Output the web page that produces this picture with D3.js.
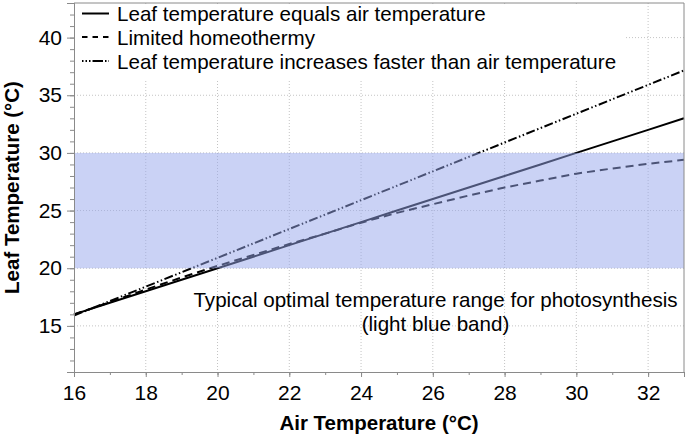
<!DOCTYPE html>
<html>
<head>
<meta charset="utf-8">
<script src="https://cdn.jsdelivr.net/npm/d3@7"></script>
<style>
    body { margin: 0; background: #fff; }
    svg { display: block; font-family: 'Liberation Sans', Helvetica, Arial, sans-serif; }
</style>
</head>
<body>
<div id="chart"></div>
<script>
'use strict';

// air temperature (x) in degrees C
const airTemps = [16, 17, 18, 19, 20, 21, 22, 23, 24, 25, 26, 27, 28, 29, 30, 31, 32, 33];

// leaf temperature for each scenario
const equalLeaf = [16, 17, 18, 19, 20, 21, 22, 23, 24, 25, 26, 27, 28, 29, 30, 31, 32, 33];
const homeoLeaf = [16, 17.05, 18.15, 19.2, 20.2, 21.15, 22.1, 23.0, 23.95, 24.8, 25.55, 26.3, 27.0, 27.6, 28.2, 28.65, 29.05, 29.4];
const fasterLeaf = [15.9, 17.15, 18.4, 19.65, 20.9, 22.15, 23.4, 24.65, 25.9, 27.15, 28.4, 29.65, 30.9, 32.15, 33.4, 34.65, 35.9, 37.15];

const seriesNames = [
    'Leaf temperature equals air temperature',
    'Limited homeothermy',
    'Leaf temperature increases faster than air temperature'
];
const seriesDash = ['none', '8,5', '9,2.5,1.5,2.5,1.5,2.5'];
const legendDash = [null, '5.5,5', '1.5,2,1.5,2,1.5,2,9,0'];

// optimal band
const bandRange = [20, 30];

const xTicks = [16, 18, 20, 22, 24, 26, 28, 30, 32];
const yTicks = [15, 20, 25, 30, 35, 40];

const width = 686;
const height = 436;
const margin = { top: 3, right: 2, bottom: 64, left: 74 };
const chartWidth = width - margin.left - margin.right;
const chartHeight = height - margin.top - margin.bottom;
const fontFamily = "'Liberation Sans', Helvetica, Arial, sans-serif";

const svg = d3.select('#chart')
    .append('svg')
    .attr('width', width)
    .attr('height', height);

const chart = svg.append('g')
    .attr('transform', `translate(${margin.left},${margin.top})`);

const xScale = d3.scaleLinear().domain([16, 33]).range([0, chartWidth]);
const yScale = d3.scaleLinear().domain([11, 43]).range([chartHeight, 0]);

// grid
chart.append('g')
    .selectAll('line.vgrid')
    .data(xTicks.slice(1))
    .join('line')
    .attr('x1', d => xScale(d))
    .attr('x2', d => xScale(d))
    .attr('y1', 0)
    .attr('y2', chartHeight)
    .attr('stroke', '#c4c4c4')
    .attr('stroke-dasharray', '1,2');

chart.append('g')
    .selectAll('line.hgrid')
    .data(yTicks)
    .join('line')
    .attr('x1', 0)
    .attr('x2', chartWidth)
    .attr('y1', d => yScale(d))
    .attr('y2', d => yScale(d))
    .attr('stroke', '#c4c4c4')
    .attr('stroke-dasharray', '1,2');

// lines
const series = [equalLeaf, homeoLeaf, fasterLeaf].map(function (vals, i) {
    return {
        name: seriesNames[i],
        dash: seriesDash[i],
        legendDash: legendDash[i],
        values: airTemps.map(function (x, j) { return { x: x, y: vals[j] }; })
    };
});

const lineGen = d3.line()
    .x(d => xScale(d.x))
    .y(d => yScale(d.y));

chart.append('g')
    .selectAll('path.series')
    .data(series)
    .join('path')
    .attr('class', 'series')
    .attr('fill', 'none')
    .attr('stroke', '#000')
    .attr('stroke-width', 2)
    .attr('stroke-dasharray', d => d.dash)
    .attr('d', d => lineGen(d.values));

// band drawn on top, semi transparent
chart.append('rect')
    .attr('x', 0)
    .attr('width', chartWidth)
    .attr('y', yScale(bandRange[1]))
    .attr('height', yScale(bandRange[0]) - yScale(bandRange[1]))
    .attr('fill', 'rgb(150,165,235)')
    .attr('fill-opacity', 0.5);

// axes
const axisColour = '#8a8a8a';

const xMinor = chart.append('g')
    .attr('transform', `translate(0,${chartHeight})`)
    .call(d3.axisBottom(xScale).tickValues(d3.range(16, 34)).tickSize(3).tickFormat(''));
const xMajor = chart.append('g')
    .attr('transform', `translate(0,${chartHeight})`)
    .call(d3.axisBottom(xScale).tickValues(xTicks).tickSize(5).tickPadding(8).tickFormat(d3.format('d')));

const yMinor = chart.append('g')
    .call(d3.axisLeft(yScale).tickValues(d3.range(11, 44)).tickSize(4).tickFormat(''));
const yMajor = chart.append('g')
    .call(d3.axisLeft(yScale).tickValues(yTicks).tickSize(7).tickPadding(5).tickFormat(d3.format('d')));

[xMinor, xMajor, yMinor, yMajor].forEach(function (g) {
    g.selectAll('line, path').attr('stroke', axisColour);
    g.selectAll('text')
        .attr('font-size', 21)
        .attr('font-family', fontFamily)
        .attr('fill', '#000');
});

// frame top and right
chart.append('path')
    .attr('d', `M0,0H${chartWidth}V${chartHeight}`)
    .attr('fill', 'none')
    .attr('stroke', axisColour);

// legend
const legend = svg.append('g');
legend.append('rect')
    .attr('x', margin.left + 1)
    .attr('y', margin.top + 1)
    .attr('width', 551)
    .attr('height', 76)
    .attr('fill', '#fff');

const rowY = [13.5, 37, 61];
const legendRows = legend.selectAll('g.row')
    .data(series)
    .join('g')
    .attr('class', 'row')
    .attr('transform', (d, i) => `translate(0,${rowY[i]})`);

legendRows.append('line')
    .attr('x1', 82)
    .attr('x2', 109)
    .attr('stroke', '#000')
    .attr('stroke-width', 2)
    .attr('stroke-dasharray', d => d.legendDash);

legendRows.append('text')
    .attr('x', 117)
    .attr('y', 7.5)
    .attr('font-size', 20.6)
    .attr('fill', '#000')
    .text(d => d.name);

// annotation
const note = chart.append('text')
    .attr('text-anchor', 'middle')
    .attr('font-size', 20.6)
    .attr('fill', '#000');
note.append('tspan')
    .attr('x', 435.5 - margin.left)
    .attr('y', 307 - margin.top)
    .text('Typical optimal temperature range for photosynthesis');
note.append('tspan')
    .attr('x', 435.5 - margin.left)
    .attr('y', 331 - margin.top)
    .text('(light blue band)');

// axis labels
svg.append('text')
    .attr('x', margin.left + chartWidth / 2)
    .attr('y', 430)
    .attr('text-anchor', 'middle')
    .attr('font-size', 20.5)
    .attr('font-weight', 700)
    .text('Air Temperature (°C)');

svg.append('text')
    .attr('transform', 'rotate(-90)')
    .attr('x', -(margin.top + chartHeight / 2))
    .attr('y', 19)
    .attr('text-anchor', 'middle')
    .attr('font-size', 20.5)
    .attr('font-weight', 700)
    .text('Leaf Temperature (°C)');
</script>
</body>
</html>
